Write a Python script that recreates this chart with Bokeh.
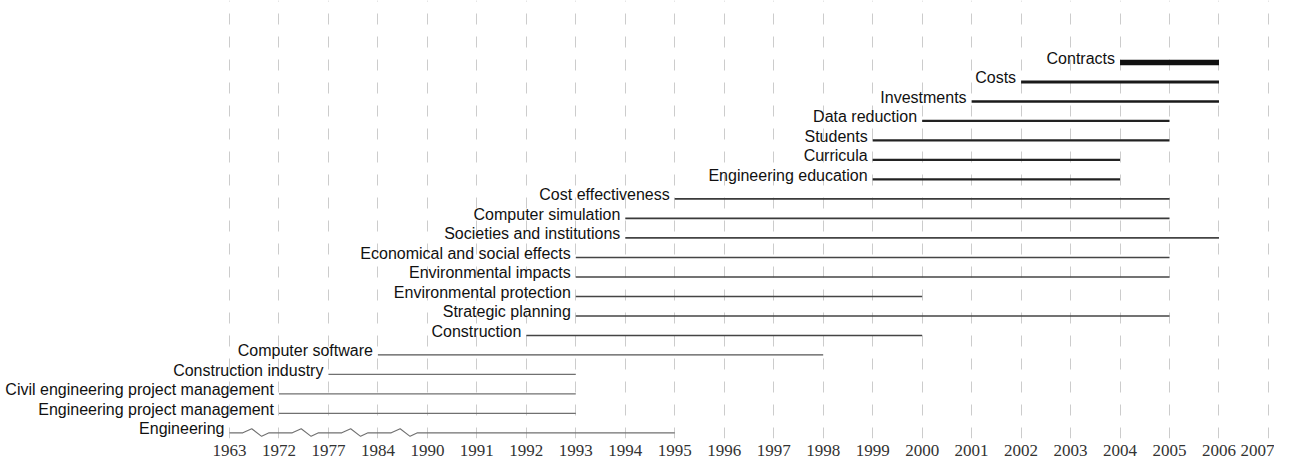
from bokeh.plotting import figure
from bokeh.models import FixedTicker, ColumnDataSource, Range1d
from bokeh.core.properties import value
from bokeh.embed import file_html
from bokeh.resources import INLINE

# ---- data ----
tick_years = [1963, 1972, 1977, 1984, 1990, 1991, 1992, 1993, 1994, 1995, 1996,
              1997, 1998, 1999, 2000, 2001, 2002, 2003, 2004, 2005, 2006, 2007]

# terms listed from bottom row to top row
terms = ["Engineering", "Engineering project management",
         "Civil engineering project management", "Construction industry",
         "Computer software", "Construction", "Strategic planning",
         "Environmental protection", "Environmental impacts",
         "Economical and social effects", "Societies and institutions",
         "Computer simulation", "Cost effectiveness", "Engineering education",
         "Curricula", "Students", "Data reduction", "Investments", "Costs",
         "Contracts"]
start_years = [1963, 1972, 1972, 1977, 1984, 1992, 1993, 1993, 1993, 1993, 1994,
               1994, 1995, 1999, 1999, 1999, 2000, 2001, 2002, 2004]
end_years = [1995, 1993, 1993, 1993, 1998, 2000, 2005, 2000, 2005, 2005, 2006,
             2005, 2005, 2004, 2004, 2005, 2005, 2006, 2006, 2006]
# axis breaks drawn on this term's line between compressed year ticks
break_term = "Engineering"

# ---- styles (per row, bottom to top) ----
line_widths = [1.1, 1.1, 1.1, 1.1, 1.3, 1.5, 1.5, 1.5, 1.5, 1.5, 1.6,
               1.8, 1.8, 2.2, 2.2, 2.2, 2.2, 2.6, 3.0, 5.5]
line_colors = ["#707070", "#707070", "#707070", "#707070", "#555555", "#444444",
               "#444444", "#444444", "#444444", "#444444", "#444444", "#3a3a3a",
               "#3a3a3a", "#222222", "#222222", "#222222", "#222222", "#1a1a1a",
               "#1a1a1a", "#111111"]

pos = {y: i for i, y in enumerate(tick_years)}
rows = list(range(len(terms)))
x0 = [pos[y] for y in start_years]
x1 = [pos[y] for y in end_years]

p = figure(width=1274, height=458, output_backend="svg", toolbar_location=None,
           x_range=Range1d(-4.628, 21.122), y_range=Range1d(-0.29, 22.18),
           y_axis_location=None, min_border_left=0, min_border_right=0,
           min_border_top=0, min_border_bottom=0)
p.outline_line_color = None
p.background_fill_color = "white"
p.border_fill_color = "white"

# grid
p.ygrid.grid_line_color = None
p.xgrid.grid_line_color = "#cccccc"
p.xgrid.grid_line_width = 1
p.xgrid.grid_line_dash = "11 12"

# x axis
p.xaxis.ticker = FixedTicker(ticks=list(range(len(tick_years))))
p.xaxis.major_label_overrides = {i: str(y) for i, y in enumerate(tick_years)}
p.xaxis.axis_line_color = None
p.xaxis.major_tick_line_color = None
p.xaxis.minor_tick_line_color = None
p.xaxis.major_label_standoff = 0
p.xaxis.major_label_text_font = "Liberation Serif"
p.xaxis.major_label_text_font_size = "17px"
p.xaxis.major_label_text_color = "#333333"

# straight lines (all rows except the one carrying breaks)
seg_idx = [i for i, t in enumerate(terms) if t != break_term]
src = ColumnDataSource(dict(
    x0=[x0[i] for i in seg_idx], x1=[x1[i] for i in seg_idx],
    y=[rows[i] for i in seg_idx],
    w=[line_widths[i] for i in seg_idx], c=[line_colors[i] for i in seg_idx]))
p.segment(x0="x0", y0="y", x1="x1", y1="y", line_width="w", line_color="c",
          source=src)

# line with zigzag axis breaks
bi = terms.index(break_term)
amp = 0.21
bx, by = [x0[bi]], [rows[bi]]
for k in range(len(tick_years) - 1):
    if tick_years[k + 1] - tick_years[k] > 1 and pos[tick_years[k]] >= x0[bi]:
        base = pos[tick_years[k]]
        bx += [base + 0.27, base + 0.45, base + 0.65, base + 0.8]
        by += [rows[bi], rows[bi] + amp, rows[bi] - amp * 0.85, rows[bi]]
bx.append(x1[bi])
by.append(rows[bi])
p.line(bx, by, line_width=line_widths[bi], line_color=line_colors[bi])

# labels
lab = ColumnDataSource(dict(x=x0, y=rows, t=terms))
p.text(x="x", y="y", text="t", source=lab, text_align="right",
       text_baseline="middle", x_offset=-5, y_offset=-4,
       text_font=value("Liberation Sans"), text_font_size="16px",
       text_color="#111111")

open("out.html", "w").write(file_html(p, INLINE))
